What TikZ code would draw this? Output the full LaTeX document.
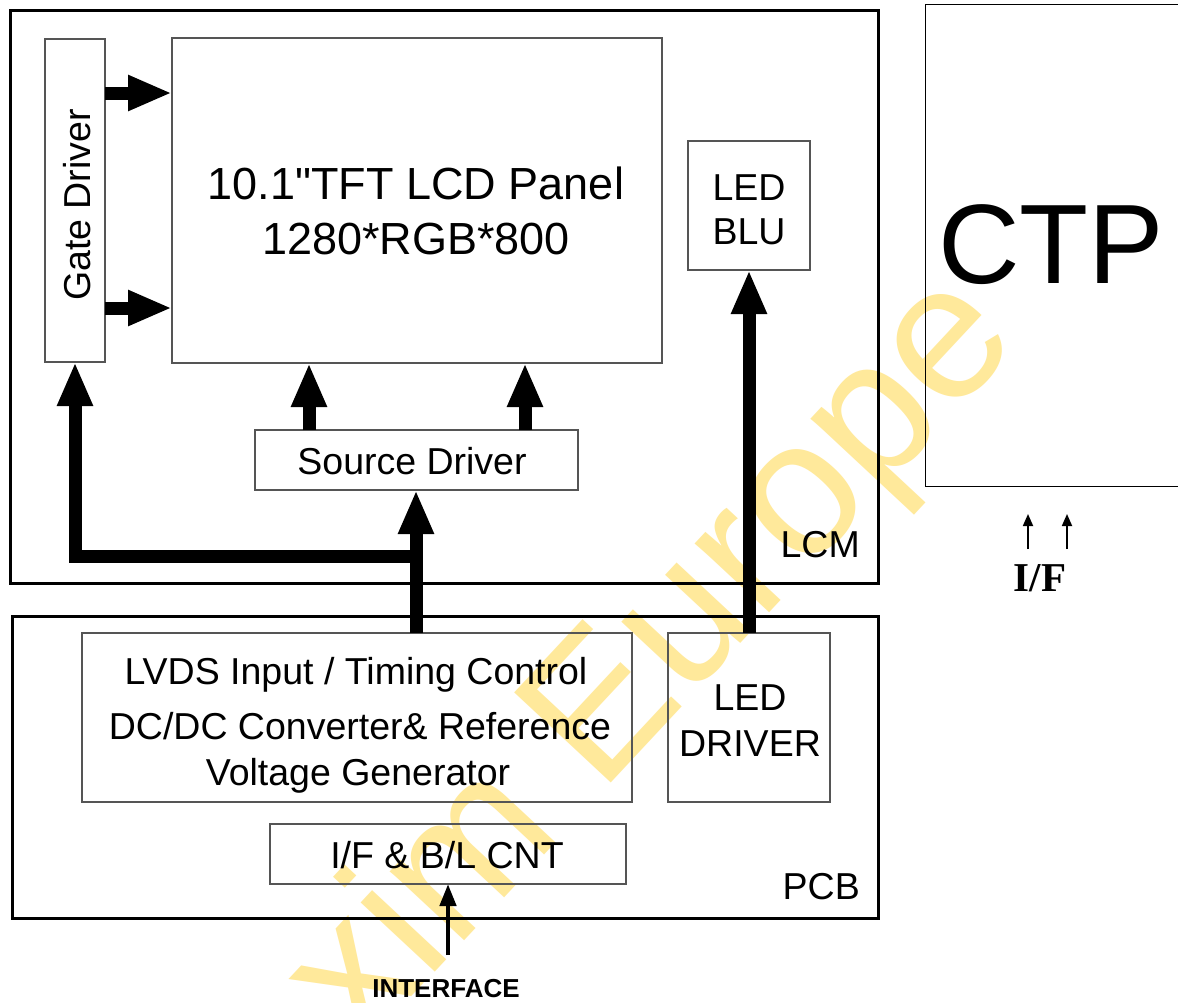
\documentclass[tikz,border=0pt]{standalone}
\usepackage{fontspec}
\setmainfont{Liberation Sans}
\newfontfamily\nomapsans{Liberation Sans}
\newfontfamily\tnrfont{Liberation Serif}
\usetikzlibrary{arrows.meta}
\definecolor{wmyellow}{RGB}{255,233,155}
\definecolor{boxgray}{RGB}{85,85,85}
\newcommand\fsNorm{\fontsize{37.5}{45}\selectfont}
\newcommand\fsBig{\fontsize{45}{54}\selectfont}
\begin{document}
\begin{tikzpicture}[x=1pt,y=1pt,
  frame/.style={draw=black, line width=3pt, inner sep=0pt, outer sep=0pt},
  blockbox/.style={draw=boxgray, line width=1.1pt, inner sep=0pt, outer sep=0pt},
  ctpbox/.style={draw=black, line width=1pt, inner sep=0pt, outer sep=0pt},
  lbl/.style={inner sep=0pt, font=\fsNorm},
  lblbig/.style={inner sep=0pt, font=\fsBig},
  bigarr/.style={line width=13pt, line join=miter, -{Triangle[length=44pt,width=33pt]}},
  smallarr/.style={line width=4.5pt, -{Triangle[length=22pt,width=16pt]}},
  tinyarr/.style={line width=1.8pt, -{Triangle[length=12pt,width=10pt]}}
]
\useasboundingbox (0,0) rectangle (1178,-1002);
\clip (0,0) rectangle (1178,-1002);
\fill[white] (0,0) rectangle (1178,-1002);

% watermark
\node[rotate=47, anchor=base west, inner sep=0pt, text=wmyellow,
      font=\fontsize{192}{192}\selectfont] (wm) at (222,-1200) {Texim Europe};

% outer frames
\node[frame, minimum width=868pt, minimum height=573pt] (lcm) at (444,-296.5) {};
\node[frame, minimum width=866pt, minimum height=302pt] (pcb) at (445,-767) {};
\node[ctpbox, minimum width=275pt, minimum height=482pt] (ctp) at (1062.5,-245) {};

% blocks
\node[blockbox, minimum width=60pt, minimum height=323pt] (gate) at (75,-200.5) {};
\node[blockbox, minimum width=490pt, minimum height=325pt] (panel) at (417,-200.5) {};
\node[blockbox, minimum width=122pt, minimum height=129pt] (ledblu) at (749,-205.5) {};
\node[blockbox, minimum width=323pt, minimum height=60pt] (source) at (416.5,-460) {};
\node[blockbox, minimum width=550pt, minimum height=169pt] (lvds) at (357,-717.5) {};
\node[blockbox, minimum width=162pt, minimum height=169pt] (leddrv) at (749,-717.5) {};
\node[blockbox, minimum width=356pt, minimum height=60pt] (ifbl) at (448,-854) {};

% texts
\node[lblbig, anchor=base] (pt1) at (416,-199) {\nomapsans 10.1"TFT LCD Panel};
\node[lblbig, anchor=base] (pt2) at (416,-254) {1280*RGB*800};
\node[lbl, rotate=90] (gt) at (77,-205) {Gate Driver};
\node[lbl, anchor=base] (lb1) at (749,-200) {LED};
\node[lbl, anchor=base] (lb2) at (749,-244) {BLU};
\node[lbl, anchor=base] (st) at (412,-474) {Source Driver};
\node[lbl, anchor=base east] (lcmt) at (860,-557) {LCM};
\node[lbl, anchor=base east] (pcbt) at (860,-899) {PCB};
\node[lbl, anchor=base] (lv1) at (356,-684) {LVDS Input / Timing Control};
\node[lbl, anchor=base] (lv2) at (360,-739) {DC/DC Converter\& Reference};
\node[lbl, anchor=base] (lv3) at (358,-785) {Voltage Generator};
\node[lbl, anchor=base] (ld1) at (750,-710) {LED};
\node[lbl, anchor=base] (ld2) at (750,-756) {DRIVER};
\node[lbl, anchor=base] (ift) at (447,-868) {I/F \& B/L CNT};
\node[inner sep=0pt, anchor=base, font=\fontsize{26}{30}\selectfont\bfseries] (iface) at (446,-997) {INTERFACE};
\node[inner sep=0pt, anchor=base west, font=\fontsize{113}{113}\selectfont] (ctpt) at (938,-283) {CTP};
\node[inner sep=0pt, anchor=base, font=\tnrfont\bfseries\fontsize{41}{41}\selectfont] (ifc) at (1040,-591) {I/F};

% helper coordinates
\coordinate (g1) at (0,-93);
\coordinate (g2) at (0,-308);
\coordinate (s1) at (309,0);
\coordinate (s2) at (525,0);
\coordinate (tk) at (416,-556);
\coordinate (ifb) at (448,-955);
\coordinate (ua) at (1028,-549);
\coordinate (ub) at (1028,-514);
\coordinate (va) at (1067,-549);
\coordinate (vb) at (1067,-514);

% connectors
\draw[bigarr] (gate.east |- g1) -- (panel.west |- g1);
\draw[bigarr] (gate.east |- g2) -- (panel.west |- g2);
\draw[bigarr] (source.north -| s1) -- (panel.south -| s1);
\draw[bigarr] (source.north -| s2) -- (panel.south -| s2);
\draw[bigarr] (lvds.north -| tk) -- (source.south -| tk);
\draw[bigarr] (tk) -- (tk -| gate.south) -- (gate.south);
\draw[bigarr] (leddrv.north) -- (ledblu.south);
\draw[smallarr] (ifb) -- (ifbl.south);
\draw[tinyarr] (ua) -- (ub);
\draw[tinyarr] (va) -- (vb);
\end{tikzpicture}
\end{document}
